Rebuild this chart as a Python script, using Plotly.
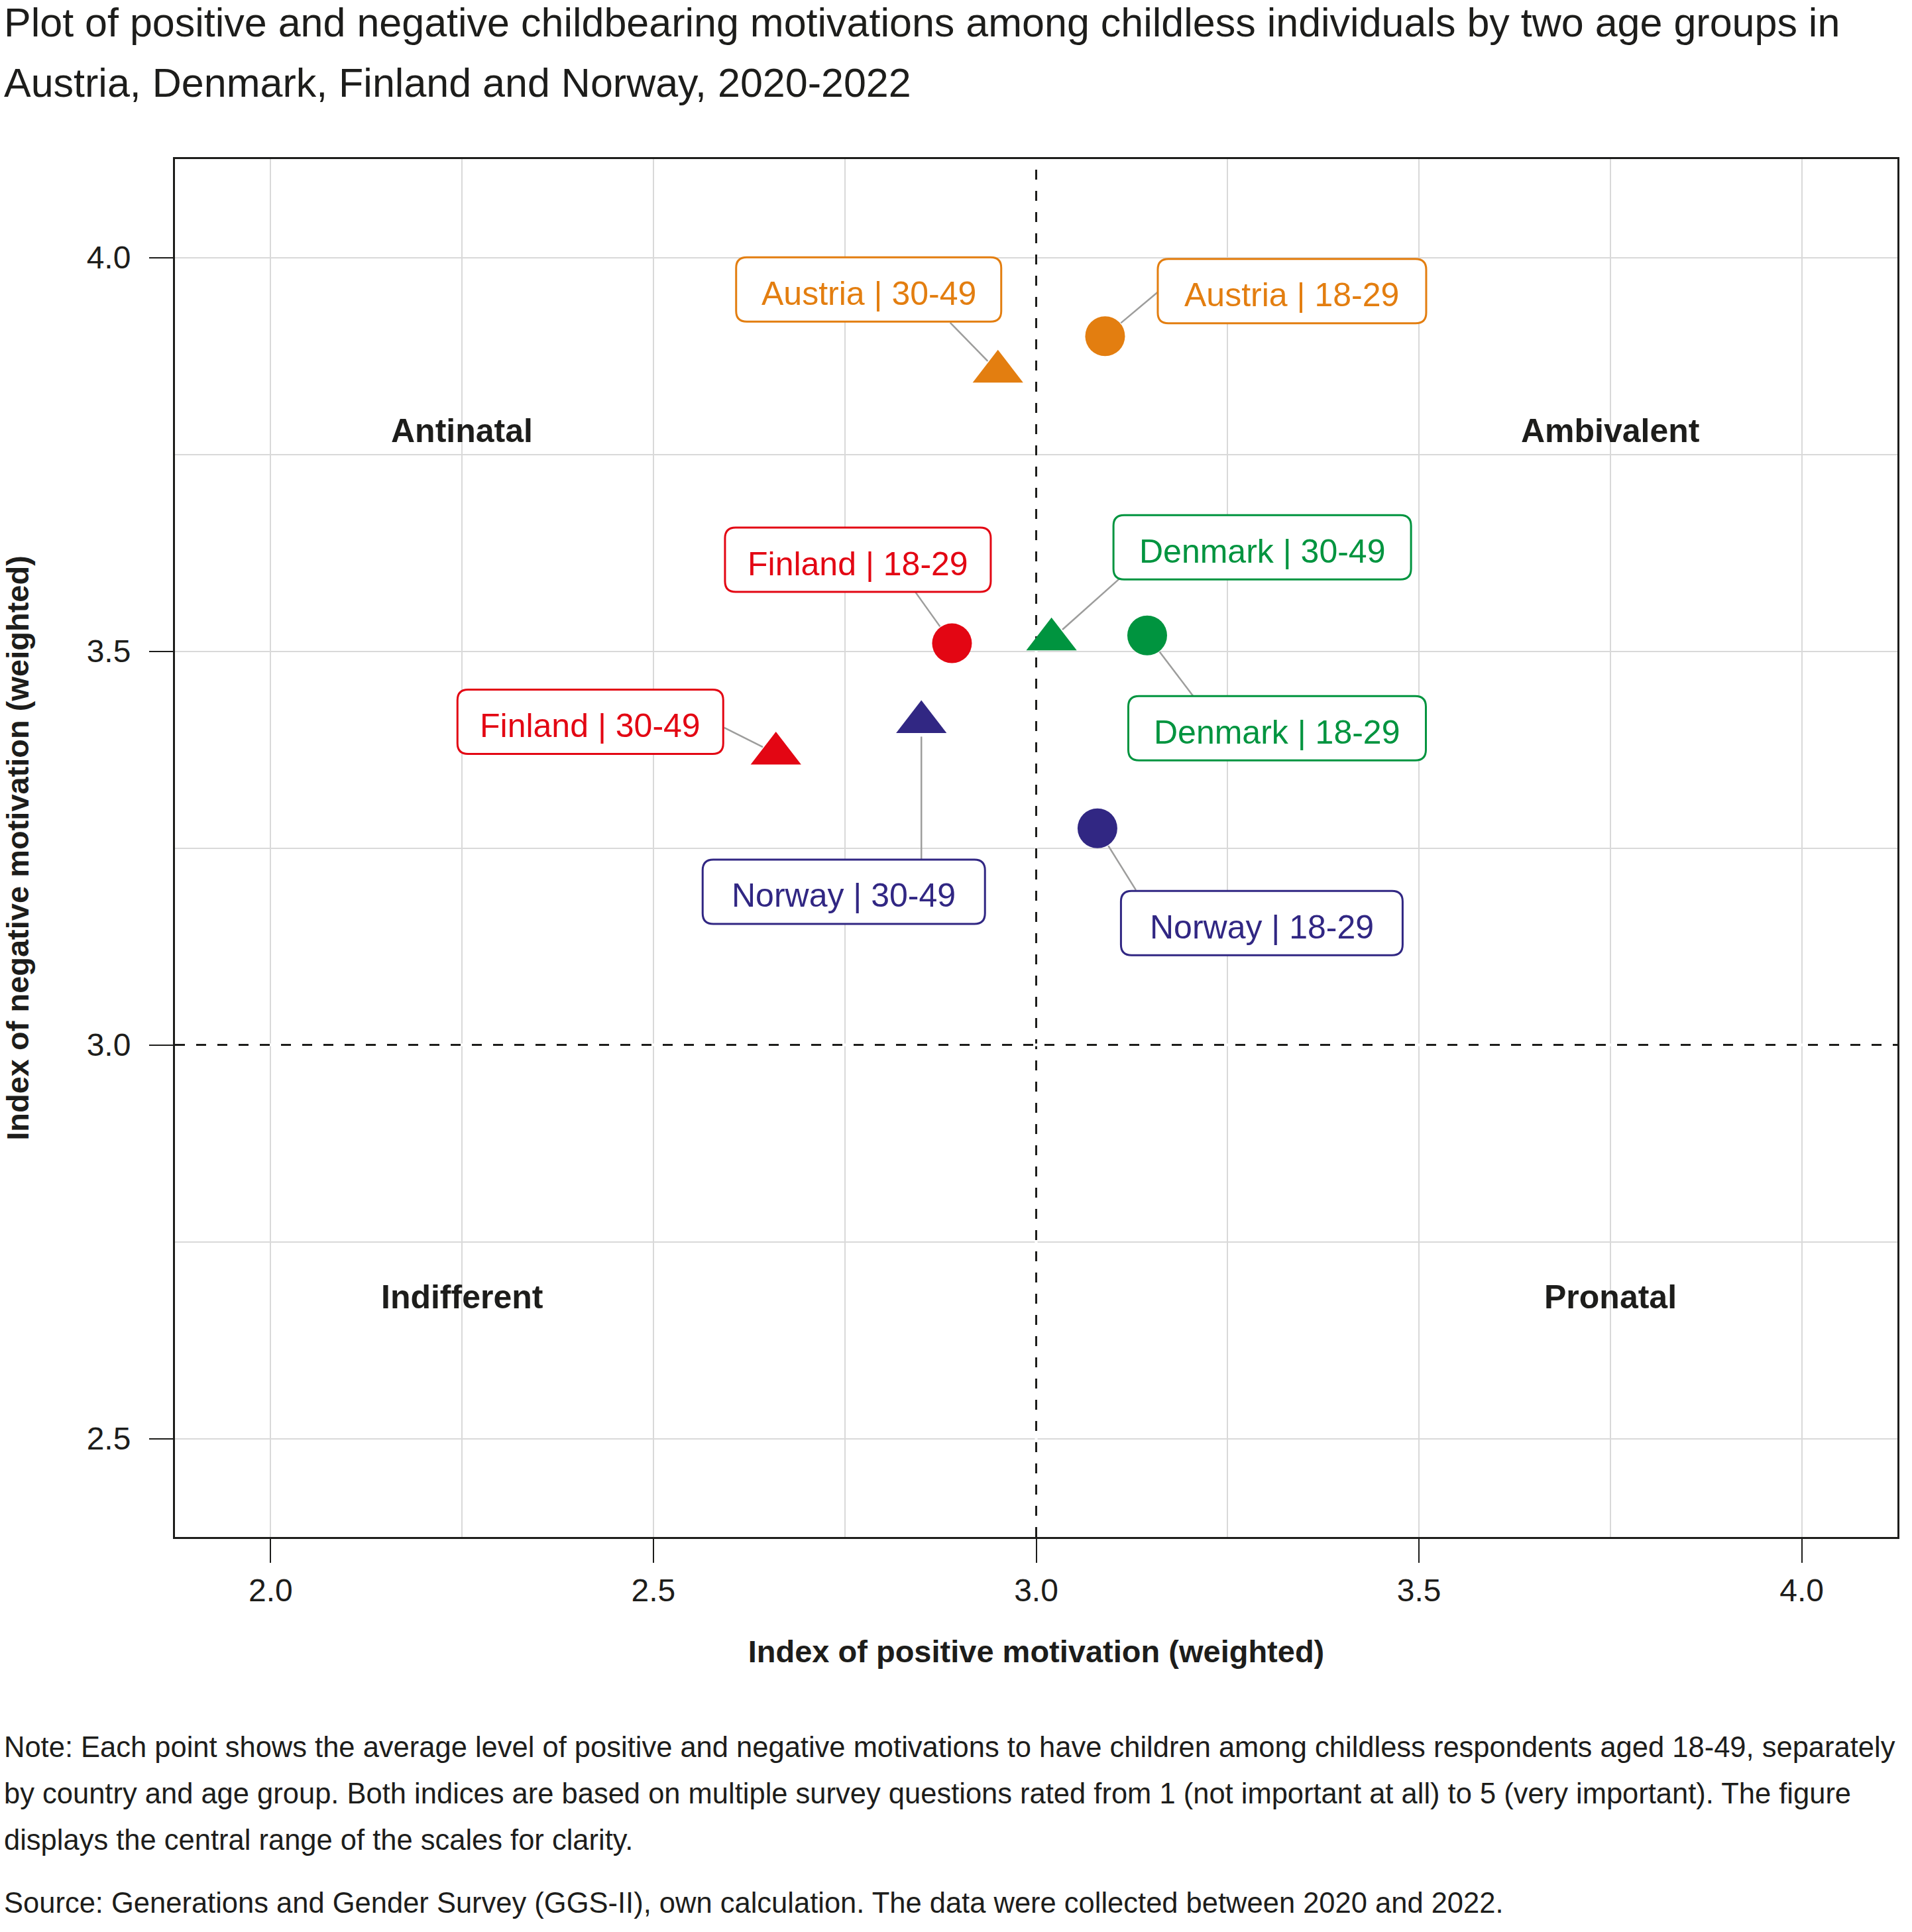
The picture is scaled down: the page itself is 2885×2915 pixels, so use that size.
import math
import plotly.graph_objects as go

# ---------------- data ----------------
countries = ["Austria", "Denmark", "Finland", "Norway"]
pos_18_29 = [3.09, 3.145, 2.89, 3.08]
neg_18_29 = [3.90, 3.52, 3.51, 3.275]
pos_30_49 = [2.95, 3.02, 2.66, 2.85]
neg_30_49 = [3.855, 3.515, 3.37, 3.41]
age_groups = ["18-29", "30-49"]

x_range = [1.875, 4.125]
y_range = [2.375, 4.125]
midpoint = 3.0
x_tick_vals = [2.0, 2.5, 3.0, 3.5, 4.0]
x_tick_text = ["2.0", "2.5", "3.0", "3.5", "4.0"]
y_tick_vals = [2.5, 3.0, 3.5, 4.0]
y_tick_text = ["2.5", "3.0", "3.5", "4.0"]

quadrant_labels = ["Antinatal", "Ambivalent", "Indifferent", "Pronatal"]
quadrant_x = [2.25, 3.75, 2.25, 3.75]
quadrant_y = [3.78, 3.78, 2.68, 2.68]

title_lines = [
    "Plot of positive and negative childbearing motivations among childless individuals by two age groups in",
    "Austria, Denmark, Finland and Norway, 2020-2022",
]
note_lines = [
    "Note: Each point shows the average level of positive and negative motivations to have children among childless respondents aged 18-49, separately",
    "by country and age group. Both indices are based on multiple survey questions rated from 1 (not important at all) to 5 (very important). The figure",
    "displays the central range of the scales for clarity.",
]
source_text = "Source: Generations and Gender Survey (GGS-II), own calculation. The data were collected between 2020 and 2022."

# ---------------- style ----------------
W, H = 2885, 2915
ML, MR, MT, MB = 264, 22, 240, 596
PW, PH = W - ML - MR, H - MT - MB
FONT = "Liberation Sans, Arial, Helvetica, sans-serif"
INK = "#1d1d1b"
GRID = "#d9d9d9"
country_colors = {"Austria": "#E37E10", "Denmark": "#00943F",
                  "Finland": "#E30613", "Norway": "#312783"}
symbols = {"18-29": "circle", "30-49": "triangle-up"}
marker_sizes = {"18-29": 60, "30-49": 66}
standoffs = {"18-29": 31, "30-49": 22}

# label layout: box centre offset, connector end offset (pixels, y down), box width
label_layout = {
    ("Austria", "18-29"): dict(box=(282, -68), edge=(80, -67), w=405),
    ("Austria", "30-49"): dict(box=(-195, -124), edge=(-72, -74), w=400),
    ("Denmark", "18-29"): dict(box=(196, 140), edge=(69, 91), w=449),
    ("Denmark", "30-49"): dict(box=(318, -139), edge=(102, -91), w=449),
    ("Finland", "18-29"): dict(box=(-142, -126), edge=(-55, -77), w=401),
    ("Finland", "30-49"): dict(box=(-280, -48), edge=(-78, -39), w=401),
    ("Norway", "18-29"): dict(box=(248, 143), edge=(58, 93), w=425),
    ("Norway", "30-49"): dict(box=(-117, 256), edge=(0, 207), w=426),
}
BOX_H, BOX_R = 97, 16


def px_x(px):
    return (px - ML) / PW


def px_y(py):
    return (H - MB - py) / PH


def rounded_rect(cx, cy, w, h, r):
    x0, x1 = cx - w / 2, cx + w / 2
    y0, y1 = cy - h / 2, cy + h / 2
    return (f"M{x0 + r},{y1}L{x1 - r},{y1}Q{x1},{y1} {x1},{y1 - r}"
            f"L{x1},{y0 + r}Q{x1},{y0} {x1 - r},{y0}L{x0 + r},{y0}"
            f"Q{x0},{y0} {x0},{y0 + r}L{x0},{y1 - r}Q{x0},{y1} {x0 + r},{y1}Z")


fig = go.Figure()

# reference lines at the scale midpoint (white underlay hides the grid in the gaps)
dash_style = dict(color=INK, width=3, dash="15px,17px")
for lx, ly in [([midpoint, midpoint], y_range), (x_range, [midpoint, midpoint])]:
    fig.add_trace(go.Scatter(x=lx, y=ly, mode="lines", line=dict(color="white", width=4),
                             hoverinfo="skip", showlegend=False))
    fig.add_trace(go.Scatter(x=lx, y=ly, mode="lines", line=dash_style,
                             hoverinfo="skip", showlegend=False))

series = {"18-29": (pos_18_29, neg_18_29), "30-49": (pos_30_49, neg_30_49)}
for age in age_groups:
    xs, ys = series[age]
    fig.add_trace(go.Scatter(
        x=xs, y=ys, mode="markers", name=age,
        marker=dict(symbol=symbols[age], size=marker_sizes[age],
                    color=[country_colors[c] for c in countries], line=dict(width=0)),
        text=[f"{c} | {age}" for c in countries],
        hoverinfo="text", showlegend=False, cliponaxis=False,
    ))

# labels with connectors and rounded boxes
for age in age_groups:
    xs, ys = series[age]
    for c, xv, yv in zip(countries, xs, ys):
        lay = label_layout[(c, age)]
        bx, by = lay["box"]
        ex, ey = lay["edge"]
        d = math.hypot(ex, ey)
        so = standoffs[age]
        sx, sy = ex / d * so, ey / d * so
        fig.add_shape(type="line", xref="x", yref="y", xsizemode="pixel", ysizemode="pixel",
                      xanchor=xv, yanchor=yv, x0=sx, y0=-sy, x1=ex, y1=-ey,
                      line=dict(color="#9d9d9c", width=2.5), layer="above")
        fig.add_shape(type="path", xref="x", yref="y", xsizemode="pixel", ysizemode="pixel",
                      xanchor=xv, yanchor=yv,
                      path=rounded_rect(bx, -by, lay["w"], BOX_H, BOX_R),
                      fillcolor="white", line=dict(color=country_colors[c], width=3),
                      layer="above")
        fig.add_annotation(x=xv, y=yv, xref="x", yref="y", text=f"{c} | {age}",
                           showarrow=False, xshift=bx, yshift=-by - 6,
                           font=dict(family=FONT, size=50, color=country_colors[c]))

# quadrant labels
for t, qx, qy in zip(quadrant_labels, quadrant_x, quadrant_y):
    fig.add_annotation(x=qx, y=qy, xref="x", yref="y", text=f"<b>{t}</b>", showarrow=False,
                       font=dict(family=FONT, size=50, color=INK))

# title lines
for t, py in zip(title_lines, [34, 125]):
    fig.add_annotation(x=px_x(4), y=px_y(py), xref="paper", yref="paper", text=t,
                       showarrow=False, xanchor="left", yanchor="middle",
                       font=dict(family=FONT, size=61, color=INK))

# note and source
for t, py in zip(note_lines + [source_text], [2636, 2706, 2776, 2871]):
    fig.add_annotation(x=px_x(4), y=px_y(py), xref="paper", yref="paper", text=t,
                       showarrow=False, xanchor="left", yanchor="middle",
                       font=dict(family=FONT, size=43.5, color=INK))

axis_common = dict(
    ticks="outside", ticklen=36, tickwidth=2, tickcolor=INK,
    showline=True, linewidth=3, linecolor=INK, mirror=True,
    showgrid=True, gridcolor=GRID, gridwidth=2, zeroline=False,
    tickfont=dict(family=FONT, size=48, color=INK),
    minor=dict(dtick=0.25, tick0=0, showgrid=True, gridcolor=GRID, gridwidth=2, ticks=""),
)
fig.update_xaxes(range=x_range, tickvals=x_tick_vals, ticktext=x_tick_text,
                 title=dict(text="<b>Index of positive motivation (weighted)</b>",
                            font=dict(family=FONT, size=47, color=INK), standoff=51),
                 ticklabelstandoff=0, **axis_common)
fig.update_yaxes(range=y_range, tickvals=y_tick_vals, ticktext=y_tick_text,
                 title=dict(text="<b>Index of negative motivation (weighted)</b>",
                            font=dict(family=FONT, size=47, color=INK), standoff=75),
                 ticklabelstandoff=18, **axis_common)

fig.update_layout(
    width=W, height=H,
    margin=dict(l=ML, r=MR, t=MT, b=MB, autoexpand=False),
    paper_bgcolor="white", plot_bgcolor="white",
    font=dict(family=FONT, color=INK),
    showlegend=False,
)

fig.write_html("out.html", config={"displayModeBar": False})
